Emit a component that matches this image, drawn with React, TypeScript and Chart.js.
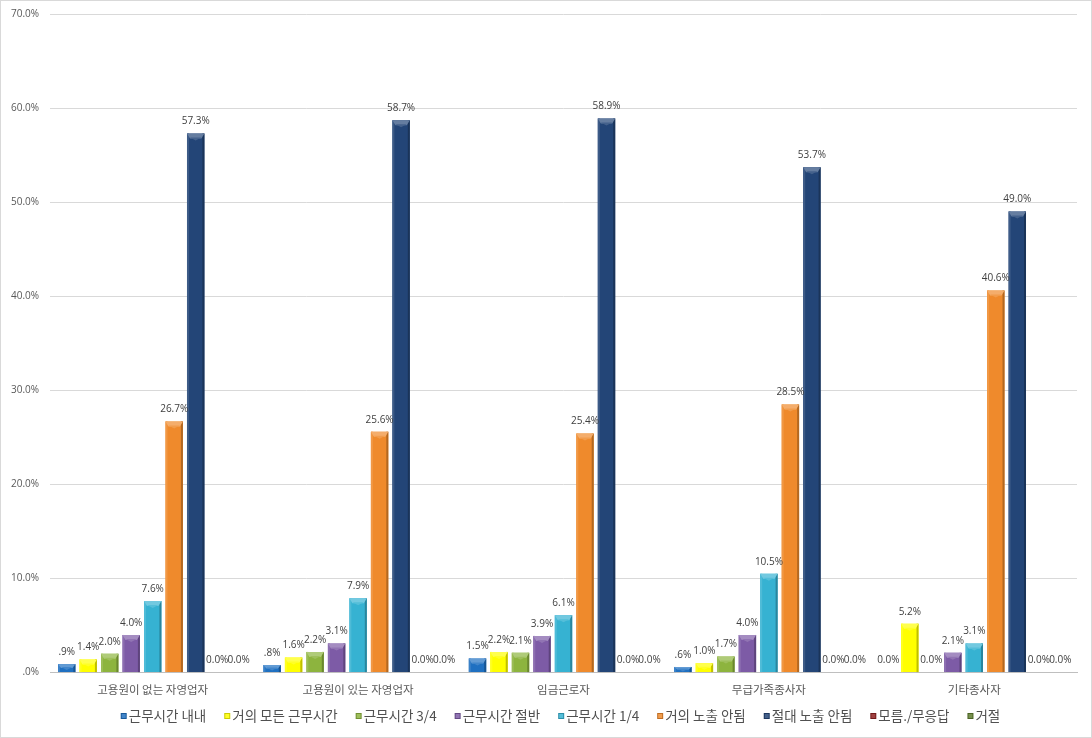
import React, { useEffect, useRef } from "react";
import { Chart, registerables } from "chart.js";

Chart.register(...registerables);

const categories = ["고용원이 없는 자영업자", "고용원이 있는 자영업자", "임금근로자", "무급가족종사자", "기타종사자"];

const seriesNames = ["근무시간 내내", "거의 모든 근무시간", "근무시간 3/4", "근무시간 절반", "근무시간 1/4", "거의 노출 안됨", "절대 노출 안됨", "모름./무응답", "거절"];

const allTheTime = [0.9, 0.8, 1.5, 0.6, 0.0];
const almostAllTime = [1.4, 1.6, 2.2, 1.0, 5.2];
const threeQuarters = [2.0, 2.2, 2.1, 1.7, 0.0];
const half = [4.0, 3.1, 3.9, 4.0, 2.1];
const quarter = [7.6, 7.9, 6.1, 10.5, 3.1];
const almostNever = [26.7, 25.6, 25.4, 28.5, 40.6];
const never = [57.3, 58.7, 58.9, 53.7, 49.0];
const dontKnow = [0.0, 0.0, 0.0, 0.0, 0.0];
const refused = [0.0, 0.0, 0.0, 0.0, 0.0];

const seriesValues = [allTheTime, almostAllTime, threeQuarters, half, quarter, almostNever, never, dontKnow, refused];

const seriesColors = ["#1F70C1", "#FFFF00", "#8DB43E", "#7D5BA6", "#36B2D2", "#EF8A2C", "#234577", "#8E1F1F", "#5E7C2D"];

const yTicks = [0, 10, 20, 30, 40, 50, 60, 70];

const NUM_FONT = "'Open Sans', 'Noto Sans CJK KR', sans-serif";
const KR_FONT = "'Noto Sans CJK KR', 'Open Sans', sans-serif";

function shade(hex: string, amt: number): string {
  const n = parseInt(hex.slice(1), 16);
  let r = (n >> 16) & 255, g = (n >> 8) & 255, b = n & 255;
  if (amt >= 0) {
    r = Math.round(r + (255 - r) * amt);
    g = Math.round(g + (255 - g) * amt);
    b = Math.round(b + (255 - b) * amt);
  } else {
    r = Math.round(r * (1 + amt));
    g = Math.round(g * (1 + amt));
    b = Math.round(b * (1 + amt));
  }
  return `rgb(${r},${g},${b})`;
}

function fmtLabel(v: number): string {
  if (v === 0) return "0.0%";
  const s = v.toFixed(1);
  return (s.startsWith("0") ? s.slice(1) : s) + "%";
}

const frame = {
  id: "frame",
  beforeDraw(chart: any) {
    const ctx = chart.ctx;
    ctx.save();
    ctx.fillStyle = "#ffffff";
    ctx.fillRect(0, 0, chart.width, chart.height);
    ctx.strokeStyle = "#d9d9d9";
    ctx.lineWidth = 1;
    ctx.strokeRect(0.5, 0.5, chart.width - 1, chart.height - 1);
    ctx.restore();
  },
};

const bevelAndLabels = {
  id: "bevelAndLabels",
  afterDatasetsDraw(chart: any) {
    const ctx = chart.ctx;
    ctx.save();
    chart.data.datasets.forEach((ds: any, di: number) => {
      const meta = chart.getDatasetMeta(di);
      const base = seriesColors[di];
      meta.data.forEach((el: any) => {
        const w = el.width;
        const l = el.x - w / 2, r = el.x + w / 2, t = el.y, b = el.base;
        const h = b - t;
        if (h < 1) return;
        const bv = Math.min(5, h / 2);
        const sw = Math.min(2, w / 6);
        const poly = (pts: number[][], color: string) => {
          ctx.beginPath();
          ctx.moveTo(pts[0][0], pts[0][1]);
          for (let i = 1; i < pts.length; i++) ctx.lineTo(pts[i][0], pts[i][1]);
          ctx.closePath();
          ctx.fillStyle = color;
          ctx.fill();
        };
        poly([[l, t], [l + sw, t], [l + sw, b], [l, b]], shade(base, 0.12));
        poly([[r - sw, t], [r, t], [r, b], [r - sw, b]], shade(base, -0.25));
        poly([[l, t], [r, t], [r - 3, t + bv], [l + 3, t + bv]], shade(base, 0.3));
        poly([[l + 3, t + bv - 1], [r - 3, t + bv - 1], [el.x, t + bv + 2]], shade(base, 0.15));
      });
    });
    ctx.font = `10px ${NUM_FONT}`;
    ctx.fillStyle = "#404040";
    ctx.textAlign = "center";
    ctx.textBaseline = "bottom";
    chart.data.datasets.forEach((ds: any, di: number) => {
      const meta = chart.getDatasetMeta(di);
      meta.data.forEach((el: any, i: number) => {
        const v = ds.data[i];
        ctx.fillText(fmtLabel(v), el.x, el.y - 7);
      });
    });
    ctx.restore();
  },
};

const customLegend = {
  id: "customLegend",
  afterDraw(chart: any) {
    const ctx = chart.ctx;
    ctx.save();
    ctx.font = `13.5px ${KR_FONT}`;
    const box = 6, gapBox = 2, gapItem = 18;
    const widths = seriesNames.map((n) => ctx.measureText(n).width);
    const total = widths.reduce((a, b) => a + b, 0) + seriesNames.length * (box + gapBox) + (seriesNames.length - 1) * gapItem;
    const area = chart.chartArea;
    let x = (area.left + area.right) / 2 - 3 - total / 2;
    const cy = 716;
    ctx.textBaseline = "middle";
    ctx.textAlign = "left";
    seriesNames.forEach((name, i) => {
      const c = seriesColors[i];
      ctx.fillStyle = shade(c, -0.2);
      ctx.fillRect(x, cy - box / 2, box, box);
      ctx.fillStyle = shade(c, 0.15);
      ctx.fillRect(x + 1, cy - box / 2 + 1, box - 2, box - 2);
      x += box + gapBox;
      ctx.fillStyle = "#505050";
      ctx.fillText(name, x, cy);
      x += widths[i] + gapItem;
    });
    ctx.restore();
  },
};

export default function App() {
  const ref = useRef<HTMLCanvasElement | null>(null);
  useEffect(() => {
    if (!ref.current) return;
    const chart = new Chart(ref.current, {
      type: "bar",
      data: {
        labels: categories,
        datasets: seriesNames.map((name, i) => ({
          label: name,
          data: seriesValues[i],
          backgroundColor: seriesColors[i],
          borderWidth: 0,
          categoryPercentage: 0.942,
          barPercentage: 0.81,
        })),
      },
      options: {
        animation: false,
        responsive: false,
        devicePixelRatio: 1,
        layout: { padding: { left: 8, right: 15, top: 14, bottom: 31.6 } },
        plugins: {
          tooltip: { enabled: false },
          legend: { display: false },
        },
        scales: {
          x: {
            grid: { display: false, drawTicks: false },
            border: { display: true, color: "#bfbfbf" },
            ticks: { color: "#595959", font: { family: KR_FONT, size: 11.5 }, padding: 10 },
          },
          y: {
            min: 0,
            max: 70,
            afterFit: (s: any) => { s.width = 42; s.paddingTop = 0; s.paddingBottom = 0; },
            afterBuildTicks: (s: any) => { s.ticks = yTicks.map((v) => ({ value: v })); },
            grid: { color: "#d9d9d9", drawTicks: false },
            border: { display: false },
            ticks: {
              color: "#595959",
              padding: 11,
              font: { family: NUM_FONT, size: 10 },
              callback: (v: any) => (v === 0 ? ".0%" : Number(v).toFixed(1) + "%"),
            },
          },
        },
      },
      plugins: [frame, bevelAndLabels, customLegend],
    });
    return () => chart.destroy();
  }, []);
  return (
    <div style={{ position: "fixed", left: 0, top: 0, width: 1092, height: 738 }}>
      <canvas ref={ref} width={1092} height={738} />
    </div>
  );
}
